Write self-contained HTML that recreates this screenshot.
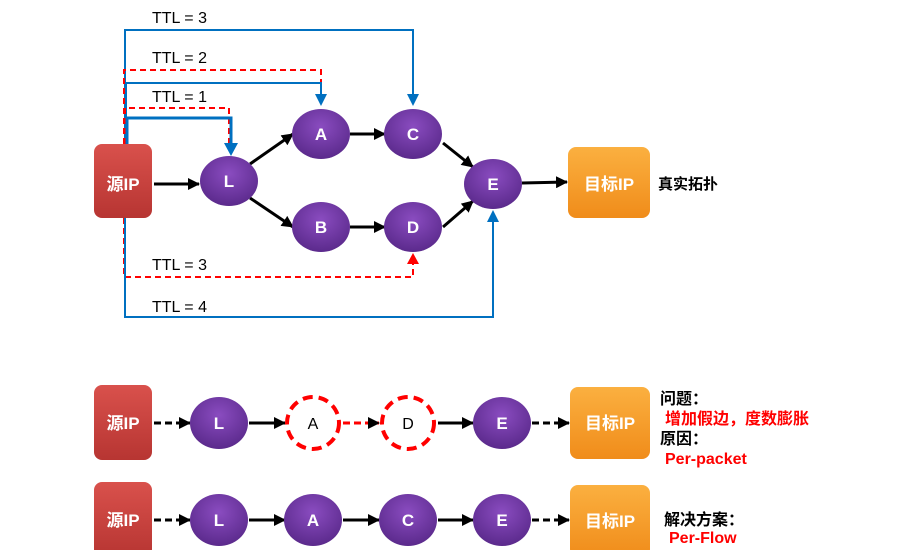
<!DOCTYPE html>
<html><head><meta charset="utf-8"><style>
body{margin:0;background:#fff;width:917px;height:550px;overflow:hidden}
svg text{font-family:"Liberation Sans","Noto Sans CJK SC",sans-serif}
</style></head><body>
<svg width="917" height="550" viewBox="0 0 917 550">
<defs>
<marker id="ak" markerWidth="12" markerHeight="12" refX="11" refY="6" orient="auto" markerUnits="userSpaceOnUse"><path d="M0,0L12,6L0,12z" fill="#000"/></marker>
<radialGradient id="pg" cx="50%" cy="35%" r="65%"><stop offset="0" stop-color="#8a4cc0"/><stop offset="1" stop-color="#5b2a8c"/></radialGradient>
<linearGradient id="rg" x1="0" y1="0" x2="0" y2="1"><stop offset="0" stop-color="#d9514c"/><stop offset="1" stop-color="#b73532"/></linearGradient>
<linearGradient id="og" x1="0" y1="0" x2="0" y2="1"><stop offset="0" stop-color="#fbb040"/><stop offset="1" stop-color="#f08c1a"/></linearGradient>
</defs>
<g font-size="16" fill="#000">
<text x="152" y="23">TTL = 3</text><text x="152" y="63">TTL = 2</text><text x="152" y="102">TTL = 1</text>
<text x="152" y="270">TTL = 3</text><text x="152" y="312">TTL = 4</text>
</g>
<g fill="none" stroke-width="2">
<path d="M125,144V30H413V100" stroke="#0070c0"/>
<path d="M124,144V70H321V100" stroke="#f00" stroke-dasharray="6,4"/>
<path d="M126,144V83H321V100" stroke="#0070c0"/>
<path d="M125,144V108H229V148" stroke="#f00" stroke-dasharray="6,4"/>
<path d="M127,144V118H231V148" stroke="#0070c0" stroke-width="3"/>
<path d="M124,218V277H413V262" stroke="#f00" stroke-dasharray="6,4"/>
<path d="M125,218V317H493V220" stroke="#0070c0"/>
</g>
<g>
<path d="M315,94h12l-6,12z" fill="#0070c0"/><path d="M407,94h12l-6,12z" fill="#0070c0"/>
<path d="M224,143h14l-7,13z" fill="#0070c0"/>
<path d="M407,264h12l-6,-11z" fill="#f00"/><path d="M487,222h12l-6,-12z" fill="#0070c0"/>
</g>
<g stroke="#000" stroke-width="3" marker-end="url(#ak)">
<line x1="154" y1="184" x2="199" y2="184"/>
<line x1="250" y1="164" x2="293" y2="134"/><line x1="250" y1="198" x2="293" y2="227"/>
<line x1="350" y1="134" x2="385" y2="134"/><line x1="350" y1="227" x2="385" y2="227"/>
<line x1="443" y1="143" x2="473" y2="167"/><line x1="443" y1="227" x2="473" y2="201"/>
<line x1="522" y1="183" x2="567" y2="182"/>
</g>
<rect x="94" y="144" width="58" height="74" rx="8" fill="url(#rg)"/>
<text x="123" y="190" font-size="17" font-weight="bold" fill="#fff" text-anchor="middle">源IP</text>
<rect x="568" y="147" width="82" height="71" rx="8" fill="url(#og)"/>
<text x="609" y="190" font-size="17" font-weight="bold" fill="#fff" text-anchor="middle">目标IP</text>
<text x="658" y="189" font-size="15" font-weight="bold">真实拓扑</text>
<g font-size="17" font-weight="bold" fill="#fff" text-anchor="middle">
<ellipse cx="229" cy="181" rx="29" ry="25" fill="url(#pg)"/><text x="229" y="187">L</text>
<ellipse cx="321" cy="134" rx="29" ry="25" fill="url(#pg)"/><text x="321" y="140">A</text>
<ellipse cx="413" cy="134" rx="29" ry="25" fill="url(#pg)"/><text x="413" y="140">C</text>
<ellipse cx="321" cy="227" rx="29" ry="25" fill="url(#pg)"/><text x="321" y="233">B</text>
<ellipse cx="413" cy="227" rx="29" ry="25" fill="url(#pg)"/><text x="413" y="233">D</text>
<ellipse cx="493" cy="184" rx="29" ry="25" fill="url(#pg)"/><text x="493" y="190">E</text>
</g>
<!-- row 1 -->
<g stroke-width="3" marker-end="url(#ak)">
<line x1="154" y1="423" x2="190" y2="423" stroke="#000" stroke-dasharray="7,4"/>
<line x1="249" y1="423" x2="285" y2="423" stroke="#000"/>
<line x1="343" y1="423" x2="379" y2="423" stroke="#f00" stroke-dasharray="7,4"/>
<line x1="438" y1="423" x2="473" y2="423" stroke="#000"/>
<line x1="532" y1="423" x2="569" y2="423" stroke="#000" stroke-dasharray="7,4"/>
</g>
<rect x="94" y="385" width="58" height="75" rx="8" fill="url(#rg)"/>
<text x="123" y="429" font-size="17" font-weight="bold" fill="#fff" text-anchor="middle">源IP</text>
<rect x="570" y="387" width="80" height="72" rx="8" fill="url(#og)"/>
<text x="610" y="429" font-size="17" font-weight="bold" fill="#fff" text-anchor="middle">目标IP</text>
<ellipse cx="219" cy="423" rx="29" ry="26" fill="url(#pg)"/><text x="219" y="429" font-size="17" font-weight="bold" fill="#fff" text-anchor="middle">L</text>
<ellipse cx="313" cy="423" rx="26" ry="26" fill="#fff" stroke="#f00" stroke-width="4" stroke-dasharray="10,6"/><text x="313" y="429" font-size="16" text-anchor="middle">A</text>
<ellipse cx="408" cy="423" rx="26" ry="26" fill="#fff" stroke="#f00" stroke-width="4" stroke-dasharray="10,6"/><text x="408" y="429" font-size="16" text-anchor="middle">D</text>
<ellipse cx="502" cy="423" rx="29" ry="26" fill="url(#pg)"/><text x="502" y="429" font-size="17" font-weight="bold" fill="#fff" text-anchor="middle">E</text>
<g font-size="16" font-weight="bold">
<text x="660" y="404">问题：</text>
<text x="665" y="424" fill="#f00">增加假边，度数膨胀</text>
<text x="660" y="444">原因：</text>
<text x="665" y="464" fill="#f00">Per-packet</text>
<text x="664" y="525">解决方案：</text>
<text x="669" y="543" fill="#f00">Per-Flow</text>
</g>
<!-- row 2 -->
<g stroke="#000" stroke-width="3" marker-end="url(#ak)">
<line x1="154" y1="520" x2="190" y2="520" stroke-dasharray="7,4"/>
<line x1="249" y1="520" x2="285" y2="520"/>
<line x1="343" y1="520" x2="379" y2="520"/>
<line x1="438" y1="520" x2="473" y2="520"/>
<line x1="532" y1="520" x2="569" y2="520" stroke-dasharray="7,4"/>
</g>
<rect x="94" y="482" width="58" height="75" rx="8" fill="url(#rg)"/>
<text x="123" y="526" font-size="17" font-weight="bold" fill="#fff" text-anchor="middle">源IP</text>
<rect x="570" y="485" width="80" height="72" rx="8" fill="url(#og)"/>
<text x="610" y="527" font-size="17" font-weight="bold" fill="#fff" text-anchor="middle">目标IP</text>
<g font-size="17" font-weight="bold" fill="#fff" text-anchor="middle">
<ellipse cx="219" cy="520" rx="29" ry="26" fill="url(#pg)"/><text x="219" y="526">L</text>
<ellipse cx="313" cy="520" rx="29" ry="26" fill="url(#pg)"/><text x="313" y="526">A</text>
<ellipse cx="408" cy="520" rx="29" ry="26" fill="url(#pg)"/><text x="408" y="526">C</text>
<ellipse cx="502" cy="520" rx="29" ry="26" fill="url(#pg)"/><text x="502" y="526">E</text>
</g>
</svg>
</body></html>
